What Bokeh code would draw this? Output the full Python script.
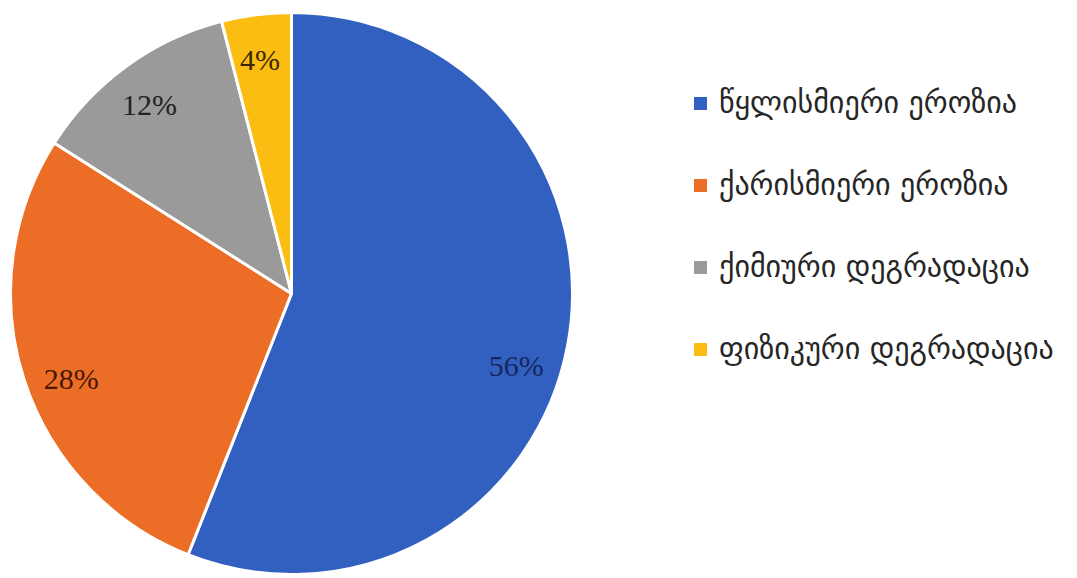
import math
from bokeh.plotting import figure
from bokeh.models import ColumnDataSource, Range1d, Legend, LegendItem
from bokeh.core.properties import value
from bokeh.embed import file_html
from bokeh.resources import INLINE

# ---- data ----
categories = ["წყლისმიერი ეროზია", "ქარისმიერი ეროზია", "ქიმიური დეგრადაცია", "ფიზიკური დეგრადაცია"]
shares = [56, 28, 12, 4]
label_texts = ["56%", "28%", "12%", "4%"]

# ---- style ----
colors = ["#3260c0", "#ec6e26", "#9a9a9a", "#fbbd12"]
label_colors = ["#17275e", "#4a1604", "#222222", "#3a2800"]
label_angle_shift_deg = [-7, 3, 1, 0.5]
label_radius_frac = 0.84

W, H = 1077, 578
cx, cy, R = 291, H - 293, 281

total = sum(shares)
starts, ends, lx, ly = [], [], [], []
a = math.pi / 2
for s, sh in zip(shares, label_angle_shift_deg):
    sweep = 2 * math.pi * s / total
    starts.append(a - sweep)
    ends.append(a)
    mid = a - sweep / 2 + math.radians(sh)
    lx.append(cx + label_radius_frac * R * math.cos(mid))
    ly.append(cy + label_radius_frac * R * math.sin(mid))
    a -= sweep

src = ColumnDataSource(dict(cat=categories, start=starts, end=ends, color=colors,
                            x=[cx] * 4, y=[cy] * 4))
lsrc = ColumnDataSource(dict(x=lx, y=ly, t=label_texts, c=label_colors))

p = figure(width=W, height=H, output_backend="svg", toolbar_location=None,
           x_range=Range1d(0, W), y_range=Range1d(0, H),
           x_axis_location=None, y_axis_location=None, min_border=0)
p.grid.visible = False
p.outline_line_color = None
p.background_fill_color = "white"
p.border_fill_color = "white"

r = p.wedge(x="x", y="y", radius=R, start_angle="start", end_angle="end",
            fill_color="color", line_color="white", line_width=3, source=src)

p.text(x="x", y="y", text="t", text_color="c", source=lsrc,
       text_font=value("Liberation Serif"), text_font_size="30px",
       text_align="center", text_baseline="middle")

items = [LegendItem(label=c, renderers=[r], index=i) for i, c in enumerate(categories)]
legend = Legend(items=items, location=(690, 212), orientation="vertical",
                glyph_width=20, glyph_height=20, label_height=34, spacing=47,
                label_standoff=9, padding=0, margin=0,
                border_line_color=None, background_fill_alpha=0,
                label_text_font="DejaVu Sans", label_text_font_size="30px",
                label_text_color="#262626")
p.add_layout(legend)

open("out.html", "w").write(file_html(p, INLINE))
